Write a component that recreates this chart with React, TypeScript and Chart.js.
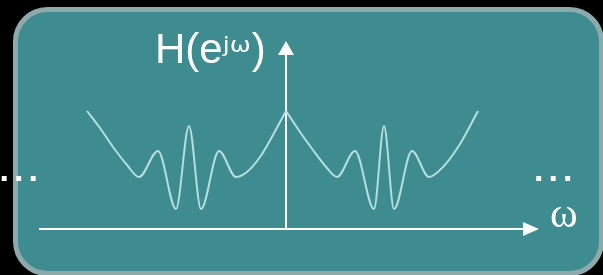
import React, { useEffect, useRef } from "react";
import { Chart, registerables } from "chart.js";

Chart.register(...registerables);

// Frequency (ω, arbitrary units, 0 at the vertical axis) and magnitude |H(e^jω)|
const leftOmega = [-1.99, -1.86, -1.73, -1.59, -1.47, -1.28, -1.1, -0.97, -0.85, -0.67, -0.5, -0.39, -0.26, -0.13, 0];
const leftMag = [1.18, 1.01, 0.82, 0.64, 0.52, 0.78, 0.2, 1.03, 0.2, 0.78, 0.52, 0.57, 0.72, 0.94, 1.18];
const rightOmega = [0, 0.14, 0.27, 0.41, 0.51, 0.69, 0.88, 0.98, 1.08, 1.26, 1.43, 1.57, 1.74, 1.92];
const rightMag = [1.18, 0.97, 0.79, 0.61, 0.52, 0.78, 0.2, 1.03, 0.2, 0.78, 0.52, 0.62, 0.85, 1.18];

const yLabelMain = "H(e";
const yLabelSup = "jω";
const yLabelClose = ")";
const xLabel = "ω";
const continuation = "...";

const toPoints = (xs: number[], ys: number[]) => xs.map((x, i) => ({ x, y: ys[i] }));

const decorPlugin = {
  id: "decor",
  beforeDraw(chart: any) {
    const { ctx, width, height } = chart;
    ctx.save();
    ctx.fillStyle = "#000000";
    ctx.fillRect(0, 0, width, height);
    ctx.beginPath();
    ctx.roundRect(15.5, 9.5, 586, 264, 32);
    ctx.fillStyle = "#3e8b90";
    ctx.fill();
    ctx.lineWidth = 5;
    ctx.strokeStyle = "#8ea9ab";
    ctx.stroke();
    ctx.restore();
  },
  beforeDatasetsDraw(chart: any) {
    const { ctx } = chart;
    const xs = chart.scales.x;
    const ys = chart.scales.y;
    const y0 = ys.getPixelForValue(0);
    const x0 = xs.getPixelForValue(0);
    const xStart = xs.getPixelForValue(-2.47);
    const xEnd = xs.getPixelForValue(2.53);
    const yTop = ys.getPixelForValue(1.88);
    ctx.save();
    ctx.strokeStyle = "#ffffff";
    ctx.fillStyle = "#ffffff";
    ctx.lineWidth = 2;
    // horizontal axis
    ctx.beginPath();
    ctx.moveTo(xStart, y0);
    ctx.lineTo(xEnd - 12, y0);
    ctx.stroke();
    ctx.beginPath();
    ctx.moveTo(xEnd - 16, y0 - 7);
    ctx.lineTo(xEnd, y0);
    ctx.lineTo(xEnd - 16, y0 + 7);
    ctx.closePath();
    ctx.fill();
    // vertical axis
    ctx.beginPath();
    ctx.moveTo(x0, y0);
    ctx.lineTo(x0, yTop + 12);
    ctx.stroke();
    ctx.beginPath();
    ctx.moveTo(x0 - 8, yTop + 14);
    ctx.lineTo(x0, yTop);
    ctx.lineTo(x0 + 8, yTop + 14);
    ctx.closePath();
    ctx.fill();
    ctx.restore();
  },
  afterDraw(chart: any) {
    const { ctx } = chart;
    ctx.save();
    ctx.fillStyle = "#ffffff";
    ctx.textBaseline = "alphabetic";
    ctx.textAlign = "left";
    // y label H(e^jω)
    ctx.font = '42px "Liberation Sans", Arial, sans-serif';
    const hx = 155;
    ctx.fillText(yLabelMain, hx, 63);
    const w1 = ctx.measureText(yLabelMain).width;
    ctx.font = '21px "DejaVu Sans", sans-serif';
    const w2 = ctx.measureText(yLabelSup).width * 1.2;
    ctx.save();
    ctx.translate(hx + w1, 52);
    ctx.scale(1.2, 1);
    ctx.fillText(yLabelSup, 0, 0);
    ctx.restore();
    ctx.font = '42px "Liberation Sans", Arial, sans-serif';
    ctx.fillText(yLabelClose, hx + w1 + w2 + 1, 63);
    // x label ω
    ctx.font = '42px "Liberation Serif", "DejaVu Serif", serif';
    ctx.fillText(xLabel, 550, 227);
    // continuation dots
    ctx.font = 'bold 34px "Liberation Sans", Arial, sans-serif';
    (ctx as any).letterSpacing = "5px";
    ctx.fillText(continuation, -0.5, 181);
    ctx.fillText(continuation, 534, 181);
    ctx.restore();
  },
};

export default function App() {
  const canvasRef = useRef<HTMLCanvasElement | null>(null);

  useEffect(() => {
    document.body.style.margin = "0";
    document.body.style.background = "#000";
    const canvas = canvasRef.current;
    if (!canvas) return;
    const lineStyle = {
      borderColor: "#b6dede",
      borderWidth: 2,
      pointRadius: 0,
      fill: false,
      cubicInterpolationMode: "monotone" as const,
      clip: false as any,
    };
    const chart = new Chart(canvas, {
      type: "line",
      data: {
        datasets: [
          { label: "left", data: toPoints(leftOmega, leftMag), ...lineStyle },
          { label: "right", data: toPoints(rightOmega, rightMag), ...lineStyle },
        ],
      },
      options: {
        responsive: false,
        maintainAspectRatio: false,
        animation: false,
        layout: { padding: 0 },
        scales: {
          x: { type: "linear", min: -2.86, max: 3.17, display: false },
          y: { type: "linear", min: -0.46, max: 2.29, display: false },
        },
        plugins: {
          legend: { display: false },
          tooltip: { enabled: false },
        },
      },
      plugins: [decorPlugin],
    });
    return () => chart.destroy();
  }, []);

  return (
    <div style={{ position: "fixed", left: 0, top: 0, width: 603, height: 275, background: "#000" }}>
      <canvas ref={canvasRef} width={603} height={275} style={{ display: "block" }} />
    </div>
  );
}
